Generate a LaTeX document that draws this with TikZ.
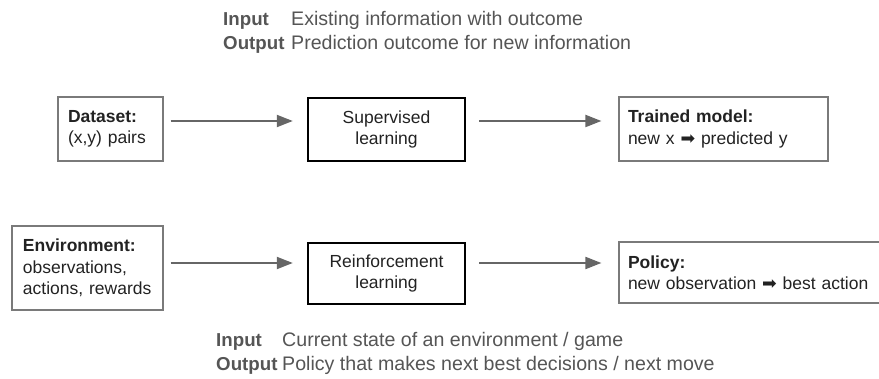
\documentclass[tikz,border=0pt]{standalone}
\usepackage{fontspec}
\setmainfont{Liberation Sans}
\newfontfamily\symfont{DejaVu Sans}
\usetikzlibrary{arrows.meta}
\definecolor{boxline}{HTML}{7A7A7A}
\definecolor{boxtext}{HTML}{222222}
\definecolor{arrowgray}{HTML}{666666}
\definecolor{headgray}{HTML}{555555}
\newcommand\bxfont{\fontsize{17.5}{21.5}\selectfont}
\newcommand\hdfont{\fontsize{19.6}{23}\selectfont}
\newcommand\hdbold[1]{{\fontsize{18.7}{23}\selectfont\bfseries #1}}
\begin{document}
\begin{tikzpicture}[x=1pt,y=-1pt,
  thinbox/.style={draw=boxline, line width=1.2pt, inner xsep=10pt, inner ysep=0pt, align=left, font=\bxfont, text=boxtext},
  thickbox/.style={draw=black, line width=2.4pt, inner sep=0pt, align=center, font=\bxfont, text=boxtext},
  arr/.style={draw=arrowgray, line width=2pt, -{Triangle[length=16pt,width=12pt]}},
  head/.style={font=\hdfont, text=headgray, anchor=base west, inner sep=0pt}]
\useasboundingbox (0,0) rectangle (879,379);
% header texts
\node[head] (in1) at (223,26) {\hdbold{Input}};
\node[head] (in1t) at (291,26) {Existing information with outcome};
\node[head] (out1) at (223,50) {\hdbold{Output}};
\node[head] (out1t) at (291,50) {Prediction outcome for new information};
\node[head] (in2) at (216,347) {\hdbold{Input}};
\node[head] (in2t) at (282,347) {Current state of an environment / game};
\node[head] (out2) at (216,371) {\hdbold{Output}};
\node[head] (out2t) at (282,371) {Policy that makes next best decisions / next move};
% row 1
\node[thinbox, minimum width=105pt, minimum height=64pt, text width=85pt] (dataset) at (110.5,129) {\mbox{\textbf{Dataset:}}\\\mbox{(x,y) pairs}};
\node[thickbox, minimum width=157pt, minimum height=63pt] (sup) at (386.5,129.5) {Supervised\\learning};
\node[thinbox, minimum width=209pt, minimum height=64pt, inner xsep=9pt, text width=191pt] (trained) at (723.5,129) {\mbox{\textbf{Trained model:}}\\\mbox{new x {\symfont ➡} predicted y}};
% row 2
\node[thinbox, minimum width=151pt, minimum height=84pt, inner xsep=11pt, text width=129pt] (env) at (87.5,268) {\mbox{\textbf{Environment:}}\\\mbox{observations,}\\\mbox{actions, rewards}};
\node[thickbox, minimum width=157pt, minimum height=61pt] (rl) at (386.5,273.5) {Reinforcement\\learning};
\node[thinbox, minimum width=266pt, minimum height=61pt, inner xsep=9pt, text width=248pt] (policy) at (752,272.5) {\mbox{\textbf{Policy:}}\\\mbox{new observation {\symfont ➡} best action}};
% arrows
\coordinate (r1) at (0,121);
\coordinate (r2) at (0,263);
\draw[arr, shorten <=7pt, shorten >=14pt] (dataset.east |- r1) -- (sup.west |- r1);
\draw[arr, shorten <=13pt, shorten >=17pt] (sup.east |- r1) -- (trained.west |- r1);
\draw[arr, shorten <=7pt, shorten >=14pt] (env.east |- r2) -- (rl.west |- r2);
\draw[arr, shorten <=13pt, shorten >=17pt] (rl.east |- r2) -- (policy.west |- r2);
\end{tikzpicture}
\end{document}
